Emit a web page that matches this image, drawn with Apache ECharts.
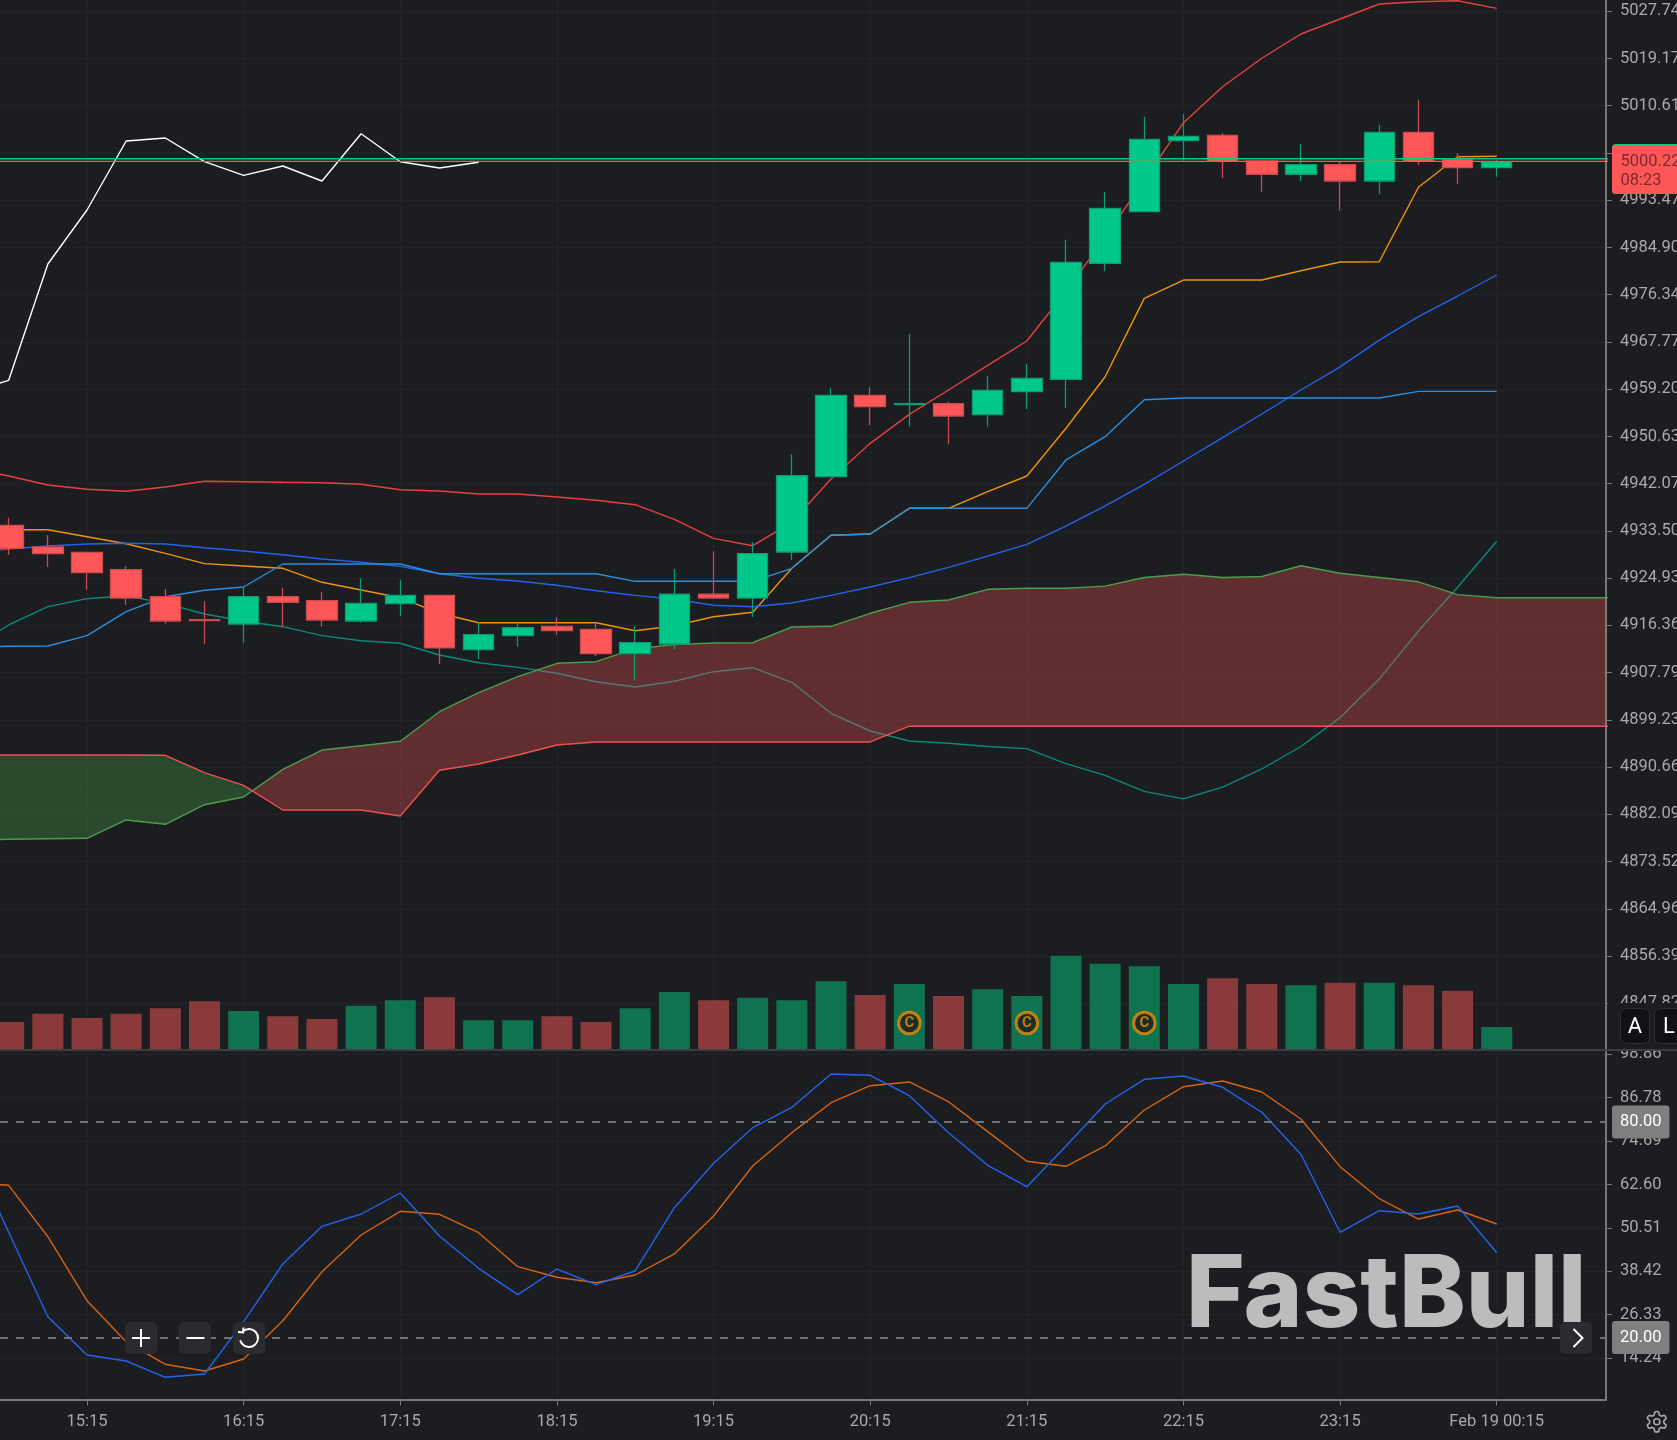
<!DOCTYPE html>
<html>
<head>
<meta charset="utf-8">
<style>html,body{margin:0;padding:0;background:#1c1d21;}#c{width:1677px;height:1440px;}</style>
<script src="https://cdn.jsdelivr.net/npm/echarts@6/dist/echarts.min.js"></script>
</head>
<body>
<div id="c"></div>
<script>
const times = [
"14:45","15:00","15:15","15:30","15:45","16:00","16:15","16:30","16:45","17:00","17:15","17:30","17:45",
"18:00","18:15","18:30","18:45","19:00","19:15","19:30","19:45","20:00","20:15","20:30","20:45","21:00",
"21:15","21:30","21:45","22:00","22:15","22:30","22:45","23:00","23:15","23:30","23:45","00:00","Feb 19 00:15"];
const timeTickIdx = [2,6,10,14,18,22,26,30,34,38];
const priceTicks = [5027.74,5019.17,5010.61,5002.04,4993.47,4984.90,4976.34,4967.77,4959.20,4950.63,4942.07,4933.50,4924.93,4916.36,4907.79,4899.23,4890.66,4882.09,4873.52,4864.96,4856.39,4847.82];
const stochTicks = [98.86,86.78,74.69,62.60,50.51,38.42,26.33,14.24];

const opens = [4934.51,4930.58,4929.61,4926.46,4921.56,4917.39,4916.61,4921.56,4920.84,4917.15,4920.29,4921.81,4911.95,4914.49,4916.19,4915.65,4911.22,4912.98,4922.00,4921.32,4929.67,4943.33,4958.09,4956.39,4956.57,4954.57,4958.74,4960.99,4982.03,4991.39,5004.27,5005.25,5000.59,4998.18,4999.92,4996.96,5005.79,5000.90,4999.37];
const closes = [4930.34,4929.36,4925.91,4921.32,4917.15,4917.21,4921.56,4920.55,4917.33,4920.36,4921.81,4912.26,4914.67,4915.94,4915.39,4911.22,4913.22,4922.00,4921.32,4929.36,4943.51,4958.09,4956.02,4956.57,4954.34,4959.00,4961.17,4982.21,4992.01,5004.52,5005.07,5000.53,4998.18,4999.92,4996.96,5005.79,5000.53,4999.37,5000.46];
const lows = [4929.12,4926.95,4922.83,4920.11,4916.66,4913.04,4913.22,4916.12,4916.12,4916.84,4918.11,4909.35,4910.26,4912.49,4914.67,4910.80,4906.40,4912.02,4921.32,4917.88,4928.22,4943.33,4952.70,4952.40,4949.26,4952.40,4955.61,4955.84,4980.58,4991.39,5000.64,4997.45,4995.02,4996.96,4991.57,4994.55,4999.92,4996.47,4997.74];
const highs = [4935.89,4932.75,4929.61,4927.13,4922.96,4920.73,4923.27,4923.14,4922.41,4924.90,4924.59,4921.81,4916.97,4916.61,4917.83,4916.74,4916.25,4926.58,4929.80,4931.48,4947.44,4959.47,4959.65,4969.21,4956.93,4961.59,4963.77,4986.31,4994.91,5008.62,5009.11,5005.67,5000.77,5003.67,5000.46,5007.12,5011.60,5001.98,5000.77];

// indicator series start one candle before the first visible one
const whiteLine = [4958.69,4960.81,4981.91,4991.70,5004.22,5004.76,5000.46,4997.99,4999.68,4996.96,5005.54,5000.46,4999.32,5000.35];
const upperBand = [4944.90,4943.45,4941.82,4941.04,4940.68,4941.46,4942.49,4942.42,4942.31,4942.24,4941.95,4940.97,4940.73,4940.19,4940.19,4939.64,4939.05,4938.25,4935.60,4932.15,4930.81,4935.05,4942.91,4949.38,4954.64,4959.05,4963.53,4967.94,4976.95,4986.75,4997.14,5007.53,5014.06,5019.22,5023.62,5026.34,5029.06,5029.48,5029.66,5028.28];
const orangeLine = [4933.71,4933.71,4933.71,4932.44,4931.17,4929.43,4927.55,4927.13,4926.71,4924.17,4922.78,4921.38,4918.55,4916.84,4916.84,4916.84,4916.84,4915.39,4916.30,4917.93,4918.73,4926.71,4932.70,4932.93,4937.59,4937.59,4940.61,4943.45,4952.11,4961.46,4975.68,4979.00,4979.00,4979.00,4980.69,4982.27,4982.32,4995.82,5001.37,5001.44];
const lightBlue = [4912.44,4912.56,4912.62,4914.49,4918.84,4921.56,4922.72,4923.32,4927.49,4927.49,4927.49,4927.49,4925.73,4925.73,4925.73,4925.73,4925.73,4924.35,4924.35,4924.35,4924.35,4926.71,4932.70,4932.93,4937.59,4937.59,4937.59,4937.59,4946.36,4950.58,4957.29,4957.60,4957.60,4957.60,4957.60,4957.60,4957.60,4958.80,4958.80,4958.80];
const darkBlue = [4929.49,4930.21,4930.76,4931.12,4931.25,4931.12,4930.45,4929.85,4929.18,4928.40,4927.80,4927.07,4925.73,4924.90,4924.41,4923.63,4922.65,4921.81,4921.09,4920.00,4919.75,4920.42,4921.81,4923.32,4925.01,4926.89,4928.92,4931.05,4934.35,4938.03,4941.95,4946.17,4950.40,4954.70,4959.05,4963.26,4968.10,4972.37,4976.10,4979.91];
const tealLine = [4911.89,4916.43,4919.75,4921.20,4921.74,4920.36,4918.42,4917.15,4916.12,4914.49,4913.58,4913.11,4910.99,4909.59,4908.75,4907.67,4906.14,4905.18,4906.22,4907.96,4908.68,4906.03,4900.41,4897.20,4895.39,4894.97,4894.39,4894.01,4891.29,4889.15,4886.25,4884.88,4887.01,4890.31,4894.39,4899.63,4906.61,4915.34,4923.28,4931.63];
const spanA = [4877.43,4877.56,4877.67,4877.74,4881.06,4880.28,4883.83,4885.23,4890.25,4893.75,4894.53,4895.33,4900.70,4904.15,4907.05,4909.48,4909.77,4912.13,4912.86,4913.16,4913.22,4916.06,4916.19,4918.55,4920.54,4920.96,4922.90,4923.10,4923.10,4923.48,4925.04,4925.62,4925.04,4925.22,4927.17,4925.82,4925.04,4924.26,4921.94,4921.36,4921.36,4921.36,4921.36];
const spanB = [4892.85,4892.85,4892.85,4892.85,4892.85,4892.79,4889.64,4887.35,4882.87,4882.87,4882.87,4881.78,4890.07,4891.22,4892.85,4894.66,4895.21,4895.21,4895.21,4895.21,4895.21,4895.21,4895.21,4895.21,4898.07,4898.07,4898.07,4898.07,4898.07,4898.07,4898.07,4898.07,4898.07,4898.07,4898.07,4898.07,4898.07,4898.07,4898.07,4898.07,4898.07,4898.07,4898.07];
const priceGreen = 5001.00;
const priceRed = 5000.53;

const volumes = [27,35.3,31,35.3,40.7,47.7,38,32.7,30,43.3,48.7,51.7,28.7,28.7,32.7,27,40.7,57,48.7,51.3,48.7,67.7,54,65,53,59.7,53,93.3,85.3,82.7,65,70.7,65,63.7,66.3,66.3,63.7,58.3,22];
const correctionIdx = [23,26,29];
const correctionLevel = 26;

const stochK = [73.10,49.28,25.77,15.10,13.43,8.89,9.81,24.38,40.45,50.95,54.38,60.23,48.25,39.25,31.90,39.05,34.69,38.58,56.14,68.50,78.42,84.10,93.38,93.02,87.33,77.03,67.95,61.98,73.32,85.02,91.90,92.82,89.67,82.71,71.01,49.28,55.30,54.38,56.61,43.60];
const stochD = [63.02,62.37,48.05,30.23,18.81,12.52,10.65,13.99,24.66,38.30,48.53,55.13,54.29,49.17,39.70,36.75,35.24,37.39,43.24,53.82,67.75,77.03,85.38,90.12,91.15,85.66,77.31,69.06,67.67,73.32,83.35,89.84,91.43,88.36,80.84,67.56,58.64,52.98,55.49,51.59];
const stochLevels = [80,20];

const BG = '#1c1d21', GRID = '#222428', AXIS = '#77787a', TXT = '#a8a9aa';
const X_MIN = -0.222, X_MAX = 40.79;
const PLOT_W = 1606;
const pairs = arr => arr.map((v, k) => [k - 1, v]);

function lineSeries(name, arr, color, z, xi, yi) {
  return {name, type:'line', data:pairs(arr), xAxisIndex:xi||0, yAxisIndex:yi||0, showSymbol:false, symbol:'none',
    smooth:false, z:z||1, lineStyle:{color, width:1.4}, silent:true, animation:false};
}
function hLine(name, value, color) {
  return {name, type:'line', data:[[-1,value],[41,value]], xAxisIndex:0, yAxisIndex:0, symbol:'none', z:6,
    lineStyle:{color, width:1.3}, silent:true};
}
function xAxisBase(gridIndex, showLine) {
  return {type:'value', gridIndex, min:X_MIN, max:X_MAX, scale:false,
    axisLine:{show:showLine, onZero:false, lineStyle:{color:AXIS, width:2}},
    axisTick:{show:showLine, customValues:timeTickIdx, length:6, lineStyle:{color:AXIS, width:1}},
    axisLabel:{show:showLine, customValues:timeTickIdx, margin:14, color:TXT, fontSize:16.5, fontFamily:'Roboto',
      formatter:v => times[v]},
    splitLine:{show:gridIndex !== 1, lineStyle:{color:GRID, width:1}}};
}
function yAxisBase(gridIndex, min, max, ticks) {
  return {type:'value', gridIndex, min, max, position:'right', scale:false,
    axisLine:{show:true, onZero:false, lineStyle:{color:AXIS, width:2}},
    axisTick:{show:true, customValues:ticks, length:6, lineStyle:{color:AXIS, width:1}},
    axisLabel:{show:true, customValues:ticks, margin:14, color:TXT, fontSize:16.5, fontFamily:'Roboto',
      padding:[2,0,0,0], showMinLabel:true, showMaxLabel:true, formatter:v => v.toFixed(2)},
    splitLine:{show:true, lineStyle:{color:GRID, width:1}}};
}

function renderCloud(params, api) {
  const n = spanA.length;
  let cross = n - 1, cx = 0, cy = 0;
  for (let k = 0; k < n - 1; k++) {
    const d0 = spanA[k] - spanB[k], d1 = spanA[k+1] - spanB[k+1];
    if (d0 < 0 && d1 >= 0) {
      const t = d0 / (d0 - d1);
      cross = k; cx = k - 1 + t; cy = spanA[k] + (spanA[k+1] - spanA[k]) * t;
      break;
    }
  }
  const greenPts = [], redPts = [];
  for (let k = 0; k <= cross; k++) greenPts.push(api.coord([k - 1, spanB[k]]));
  greenPts.push(api.coord([cx, cy]));
  for (let k = cross; k >= 0; k--) greenPts.push(api.coord([k - 1, spanA[k]]));
  redPts.push(api.coord([cx, cy]));
  for (let k = cross + 1; k < n; k++) redPts.push(api.coord([k - 1, spanA[k]]));
  for (let k = n - 1; k > cross; k--) redPts.push(api.coord([k - 1, spanB[k]]));
  return {type:'group', children:[
    {type:'polygon', shape:{points:greenPts}, style:{fill:'rgba(76,175,80,0.30)'}},
    {type:'polygon', shape:{points:redPts}, style:{fill:'rgba(255,82,82,0.30)'}}
  ]};
}

const candleData = opens.map((o, i) => [i, o, closes[i], lows[i], highs[i]]);
const volumeData = volumes.map((v, i) => ({value:[i, v],
  itemStyle:{color: closes[i] >= opens[i] ? '#0f7350' : '#8b3a3c'}}));

const UI = 100;
function btn(x, y, w, h, fill, stroke, r) {
  return {type:'rect', z:UI, shape:{x, y, width:w, height:h, r:r||5}, style:{fill, stroke:stroke||null, lineWidth:1}, silent:true};
}
function seg(x1, y1, x2, y2, color, w, z) {
  return {type:'line', z:z||UI+1, shape:{x1, y1, x2, y2}, style:{stroke:color, lineWidth:w}, silent:true};
}
function label(x, y, text, font, fill, align, z) {
  return {type:'text', z:z||UI+1, style:{x, y, text, font, fill, align:align||'left', verticalAlign:'middle'}, silent:true};
}
const gearPath = "M12.22 2h-.44a2 2 0 0 0-2 2v.18a2 2 0 0 1-1 1.73l-.43.25a2 2 0 0 1-2 0l-.15-.08a2 2 0 0 0-2.73.73l-.22.38a2 2 0 0 0 .73 2.73l.15.1a2 2 0 0 1 1 1.72v.51a2 2 0 0 1-1 1.74l-.15.09a2 2 0 0 0-.73 2.73l.22.38a2 2 0 0 0 2.73.73l.15-.08a2 2 0 0 1 2 0l.43.25a2 2 0 0 1 1 1.73V20a2 2 0 0 0 2 2h.44a2 2 0 0 0 2-2v-.18a2 2 0 0 1 1-1.73l.43-.25a2 2 0 0 1 2 0l.15.08a2 2 0 0 0 2.73-.73l.22-.39a2 2 0 0 0-.73-2.73l-.15-.08a2 2 0 0 1-1-1.74v-.5a2 2 0 0 1 1-1.74l.15-.09a2 2 0 0 0 .73-2.73l-.22-.38a2 2 0 0 0-2.73-.73l-.15.08a2 2 0 0 1-2 0l-.43-.25a2 2 0 0 1-1-1.73V4a2 2 0 0 0-2-2z";
echarts.graphic.registerShape('gearIcon', echarts.graphic.extendPath(gearPath, {}));

const graphics = [
  // watermark
  {type:'text', z:50, x:1186, y:1297, scaleX:1.005, silent:true,
    style:{x:0, y:0, text:'FastBull', font:'800 100px Inter, Lato, sans-serif', fill:'#bcbcbc', align:'left', verticalAlign:'middle'}},
  // cover under the price scale
  {type:'rect', z:UI-1, shape:{x:1608, y:1003, width:69, height:47.5}, style:{fill:BG}, silent:true},
  seg(0, 1050, 1677, 1050, '#3d3e42', 2, UI),
  // A / L
  btn(1620.5, 1008.5, 29, 35, '#101114', '#2d2e32', 6),
  btn(1654.5, 1008.5, 30, 35, '#101114', '#2d2e32', 6),
  label(1635, 1027, 'A', '22px Roboto', '#ffffff', 'center'),
  label(1669, 1027, 'L', '22px Roboto', '#ffffff', 'center'),
  // price tag
  btn(1612, 144, 70, 50, '#00c78a', null, 4),
  btn(1612, 145, 70, 49, '#ff5757', null, 4),
  label(1620.5, 162, '5000.22', '16.5px Roboto', '#7d2a2e'),
  label(1620.5, 181, '08:23', '16.5px Roboto', '#7d2a2e'),
  // zoom controls
  btn(125, 1322, 32, 32, '#2a2b30'),
  seg(132, 1338, 150, 1338, '#ffffff', 2),
  seg(141, 1329, 141, 1347, '#ffffff', 2),
  btn(179, 1322, 32, 32, '#2a2b30'),
  seg(186.5, 1338, 204.5, 1338, '#ffffff', 2),
  btn(233, 1322, 32, 32, '#2a2b30'),
  {type:'arc', z:UI+1, shape:{cx:249, cy:1338, r:9, startAngle:-2.3, endAngle:2.9, clockwise:true}, style:{stroke:'#ffffff', lineWidth:2, fill:null}, silent:true},
  {type:'polyline', z:UI+1, shape:{points:[[243.5,1327.5],[243,1332.5],[238,1332]]}, style:{stroke:'#ffffff', lineWidth:2, fill:null}, silent:true},
  btn(1560, 1322, 32, 32, '#2a2b30'),
  {type:'polyline', z:UI+1, shape:{points:[[1573.5,1329],[1582.5,1338],[1573.5,1347]]}, style:{stroke:'#ffffff', lineWidth:2, fill:null}, silent:true},
  // settings gear
  {type:'gearIcon', z:UI+1, x:1644.5, y:1409.5, scaleX:1.02, scaleY:1.02, style:{stroke:'#a8a9aa', lineWidth:1.6, fill:null}, silent:true},
  {type:'circle', z:UI+1, shape:{cx:1656.8, cy:1421.8, r:3}, style:{stroke:'#a8a9aa', lineWidth:1.6, fill:null}, silent:true}
];

const option = {
  animation:false,
  backgroundColor:BG,
  textStyle:{fontFamily:'Roboto'},
  grid:[
    {left:0, top:0, width:PLOT_W, height:1050, containLabel:false, outerBoundsMode:'none'},
    {left:0, top:900, width:PLOT_W, height:149, containLabel:false, outerBoundsMode:'none'},
    {left:0, top:1051, width:PLOT_W, height:348.5, containLabel:false, outerBoundsMode:'none'}
  ],
  xAxis:[xAxisBase(0,false), xAxisBase(1,false), xAxisBase(2,true)],
  yAxis:[
    yAxisBase(0, 4839.34, 5029.79, priceTicks),
    {type:'value', gridIndex:1, min:0, max:149, show:false},
    yAxisBase(2, 2.71, 99.78, stochTicks)
  ],
  series:[
    lineSeries('Upper band', upperBand, '#e8403f', 1),
    lineSeries('Orange', orangeLine, '#f0930a', 1),
    lineSeries('Dark blue', darkBlue, '#2463ee', 1),
    lineSeries('Light blue', lightBlue, '#2a8fe0', 1),
    lineSeries('Teal', tealLine, '#0a8a7a', 1),
    {name:'Cloud', type:'custom', coordinateSystem:'cartesian2d', xAxisIndex:0, yAxisIndex:0, clip:true, z:2,
      data:[[0, spanA[0]]], renderItem:renderCloud, silent:true},
    lineSeries('Span A', spanA, '#4a9e4a', 3),
    lineSeries('Span B', spanB, '#f05050', 3),
    {name:'Price', type:'candlestick', xAxisIndex:0, yAxisIndex:0, z:4, barWidth:31, silent:true,
      data:candleData, encode:{x:0, y:[1,2,3,4]},
      itemStyle:{color:'#00c78a', color0:'#ff5757', borderColor:'#0c9c70', borderColor0:'#c94b4d', borderWidth:1.3}},
    lineSeries('Lagging', whiteLine, '#ffffff', 5),
    hLine('Last price green', priceGreen, '#00c78a'),
    hLine('Last price red', priceRed, '#ff5757'),
    {name:'Volume', type:'bar', xAxisIndex:1, yAxisIndex:1, barWidth:31, z:2, data:volumeData, silent:true},
    {name:'Marker', type:'scatter', xAxisIndex:1, yAxisIndex:1, z:5, silent:true, symbolSize:21.5,
      data:correctionIdx.map(i => [i, correctionLevel]),
      itemStyle:{color:BG, borderColor:'#f08c00', borderWidth:3},
      label:{show:true, position:'inside', formatter:'C', color:'#f08c00', fontSize:15, fontWeight:'bold', fontFamily:'Roboto'}},
    lineSeries('%D', stochD, '#d9630f', 2, 2, 2),
    Object.assign(lineSeries('%K', stochK, '#2463ee', 3, 2, 2), {
      markLine:{silent:true, symbol:'none', animation:false,
        lineStyle:{color:'#707173', type:[8,8], width:1.8},
        label:{show:true, position:'end', distance:6, formatter:p => p.value.toFixed(2), color:'#ffffff', fontSize:16.5,
          fontFamily:'Roboto', backgroundColor:'#7f7f7f', padding:[8,8], borderRadius:3},
        data:stochLevels.map(v => ({yAxis:v}))}
    })
  ],
  graphic:{elements:graphics}
};
const chart = echarts.init(document.getElementById('c'), null, {renderer:'canvas', width:1677, height:1440});
chart.setOption(option);
</script>
</body>
</html>
